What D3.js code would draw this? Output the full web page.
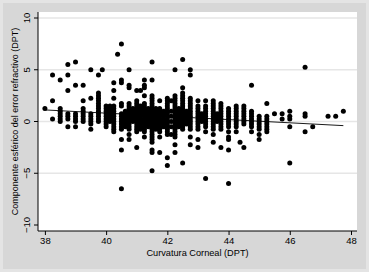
<!DOCTYPE html>
<html><head><meta charset="utf-8">
<script src="https://cdn.jsdelivr.net/npm/d3@7"></script>
<style>html,body{margin:0;padding:0;background:#d9d9d9;}svg{display:block;}</style>
</head><body>
<script>
// Column x positions (corneal curvature, DPT)
const colX = [38,38.25,38.5,38.75,39,39.25,39.5,39.75,39.875,40,40.125,40.25,40.375,40.5,40.625,40.75,40.875,41,41.125,41.25,41.375,41.5,41.625,41.75,41.875,42,42.125,42.25,42.375,42.5,42.625,42.75,43,43.125,43.25,43.5,43.625,43.75,44,44.25,44.375,44.5,44.75,45,45.25,45.5,45.75,46,46.5,46.75,47.25,47.5,47.75];
// Spherical refractive error values per column (DPT)
const colY = [
 [1.25],
 [4.5,2.0,0.25],
 [4.0,1.25,1.0,0.75,0.5,0.25,0],
 [5.5,4.5,3.0,0.75,0.5,0.25,-0.5],
 [5.75,3.5,0.75,0.5,0.25,0,-0.5],
 [3.5,2.0,1.25,1.0,0.75,0.5,0.25,0],
 [5.0,2.25,0.75,0.5,0.25,0,-0.25,-0.75],
 [4.5,2.75,2.5,2.25,2.0,1.75,1.5,1.25,1.0,0.75,0.5,0.25,0],
 [5.0],
 [1.5,1.25,1.0,0.75,0.5,0.25,0,-0.25,-0.5],
 [1.5,1.25,1.0,0.75,0.5,0.25,0],
 [3.75,3.0,2.25,1.5,1.25,1.0,0.75,0.5,0.25,0,-0.25,-0.5,-0.75,-1.0],
 [6.5],
 [7.5,4.0,3.75,1.75,1.5,0.75,0.5,0.25,0,-0.25,-0.5,-0.75,-1.75,-2.75,-6.5],
 [1.0,0.75,0.5,0.25,0,-0.25,-0.5],
 [5.0,3.5,3.25,1.75,1.5,1.25,1.0,0.75,0.5,0.25,0,-0.25,-0.5,-0.75,-1.25,-1.75],
 [1.25,1.0,0.75,0.5,0.25,0],
 [3.0,2.0,1.75,1.5,1.25,1.0,0.75,0.5,0.25,0,-0.25,-0.5,-0.75,-1.0,-2.5],
 [3.0,1.5,1.25,1.0,0.75,0.5,0.25,0,-0.25,-0.5,-0.75],
 [4.0,3.5,3.25,2.5,1.75,1.5,1.25,1.0,0.75,0.5,0.25,0,-0.25,-0.5,-0.75,-1.0,-1.5],
 [1.25,1.0,0.75,0.5,0.25,0,-0.25,-0.5],
 [5.75,4.0,2.5,2.25,2.0,1.75,1.5,1.25,1.0,0.75,0.5,0.25,0,-0.25,-0.5,-0.75,-1.0,-1.25,-1.5,-1.75,-2.0,-2.75,-3.0,-4.75],
 [1.25,1.0,0.75,0.5,0.25,0,-0.25,-0.5,-0.75],
 [2.0,1.25,1.0,0.75,0.5,0.25,0,-0.25,-0.5,-0.75,-1.0,-1.5,-3.0],
 [1.0,0.75,0.5,0.25,0,-0.25,-0.5],
 [2.25,2.0,1.75,1.5,1.25,1.0,0.75,0.5,0.25,0,-0.25,-0.5,-0.75,-1.0,-1.25,-3.5,-4.25],
 [2.0,1.0,0.5,0,-0.5,-1.25],
 [5.0,2.5,2.25,2.0,1.75,1.5,1.25,1.0,0.75,0.5,0.25,0,-0.25,-0.5,-0.75,-1.0,-1.25,-1.5,-2.25,-3.0],
 [1.25,1.0,0.75,0.5,0.25,0,-0.25,-0.5],
 [6.0,3.25,2.75,2.5,2.25,2.0,1.75,1.5,1.25,1.0,0.75,0.5,0.25,0,-0.25,-0.5,-0.75,-4.0],
 [1.0,0.75,0.5,0.25,0,-0.25],
 [5.0,4.5,2.25,2.0,1.75,1.5,1.25,1.0,0.75,0.5,0.25,0,-0.25,-0.5,-0.75,-1.5,-2.25],
 [2.0,1.5,1.25,1.0,0.75,0.5,0.25,0,-0.25,-0.5,-0.75,-1.75,-2.5],
 [0.75,0.5,0.25,0],
 [2.0,1.5,1.25,1.0,0.75,0.5,0.25,0,-0.25,-0.5,-1.0,-5.5],
 [2.0,1.75,1.5,1.25,1.0,0.75,0.5,0.25,0,-0.25,-0.5,-0.75,-1.25,-2.0],
 [0.75,0.5,0.25,0],
 [1.75,1.5,1.25,1.0,0.75,0.5,0.25,0,-0.25,-0.5,-0.75,-2.5],
 [1.25,1.0,0.75,0.5,0.25,0,-0.25,-0.5,-1.0,-1.5,-1.75,-2.75,-6.0],
 [1.5,1.25,1.0,0.75,0.5,0.25,0,-0.25,-0.5,-1.0],
 [-2.0],
 [1.5,1.25,1.0,0.75,0.5,0.25,0,-0.25,-2.5],
 [3.5,1.0,0.75,0.5,0.25,0,-0.25,-0.5,-1.0],
 [0.5,0.25,0,-0.25,-0.5,-0.75,-1.25,-1.75],
 [1.75,0.5,0.25,0,-0.25,-0.5,-0.75,-1.0],
 [0.75],
 [0.75,0.25],
 [1.0,0.5,0.25,-0.5,-4.0],
 [5.25,0.75,0.5,-1.0],
 [-0.5],
 [0.5],
 [0.5],
 [1.0]
];
// Fitted line endpoints
const fitX = [38, 47.75];
const fitY = [1.12, -0.4];
const xTicks = [38,40,42,44,46,48];
const yTicks = [-10,-5,0,5,10];
const gridVals = [-5,0,5,10];

const W = 369, H = 272;
const svg = d3.select("body").append("svg").attr("width", W).attr("height", H);
svg.append("rect").attr("x",0).attr("y",0).attr("width",W).attr("height",H).attr("fill","#e4e4e4");
svg.append("rect").attr("x",3).attr("y",3).attr("width",W-6).attr("height",H-6).attr("fill","#d7d7d7");

const plot = {l:38, t:12, r:357, b:231};
svg.append("rect").attr("x",plot.l).attr("y",plot.t).attr("width",plot.r-plot.l).attr("height",plot.b-plot.t).attr("fill","#fff");

const x = d3.scaleLinear().domain([38,48]).range([44.9,351]);
const y = d3.scaleLinear().domain([-10,10]).range([225,18]);

svg.append("g").selectAll("line").data(gridVals).join("line")
  .attr("x1",plot.l).attr("x2",plot.r).attr("y1",d=>y(d)).attr("y2",d=>y(d))
  .attr("stroke","#e6e6e6").attr("stroke-width",1.5);

const pts = [];
colX.forEach((cx,i)=>colY[i].forEach(v=>pts.push([cx,v])));
svg.append("g").selectAll("circle").data(pts).join("circle")
  .attr("cx",d=>x(d[0])).attr("cy",d=>y(d[1])).attr("r",2.5).attr("fill","#000");

svg.append("line").attr("x1",x(fitX[0])).attr("y1",y(fitY[0])).attr("x2",x(fitX[1])).attr("y2",y(fitY[1]))
  .attr("stroke","#000").attr("stroke-width",0.9);

const font = "Liberation Sans, Arial, Helvetica, sans-serif";
// axes
const xa = svg.append("g").attr("transform",`translate(0,${plot.b})`)
  .call(d3.axisBottom(x).tickValues(xTicks).tickSize(4).tickPadding(2).tickFormat(d3.format("d")));
xa.select(".domain").attr("d",`M${plot.l},0H${plot.r}`);
const ya = svg.append("g").attr("transform",`translate(${plot.l},0)`)
  .call(d3.axisLeft(y).tickValues(yTicks).tickSize(4).tickPadding(2).tickFormat(d3.format("d")));
ya.select(".domain").attr("d",`M0,${plot.t}V${plot.b}`);
svg.selectAll(".tick text").attr("font-family",font).attr("font-size",9.5).attr("fill","#000");
ya.selectAll(".tick text").attr("text-anchor","middle").attr("dy",null).attr("dominant-baseline","middle")
  .attr("x",0).attr("y",0)
  .attr("transform",function(d){return `translate(-11,${y(d)}) rotate(-90)`;});
ya.selectAll(".tick line").attr("stroke","#000");
ya.selectAll(".tick").attr("transform",null);
ya.selectAll(".tick line").attr("transform",d=>`translate(0,${y(d)})`);
svg.selectAll(".domain").attr("stroke","#000");

svg.append("text").attr("x",(plot.l+plot.r)/2).attr("y",256).attr("text-anchor","middle")
  .attr("font-family",font).attr("font-size",9.2).text("Curvatura Corneal (DPT)");
svg.append("text").attr("transform",`translate(16,${(plot.t+plot.b)/2}) rotate(-90)`).attr("text-anchor","middle")
  .attr("dominant-baseline","middle")
  .attr("font-family",font).attr("font-size",9).text("Componente esférico del error refractivo (DPT)");
</script>
</body></html>
